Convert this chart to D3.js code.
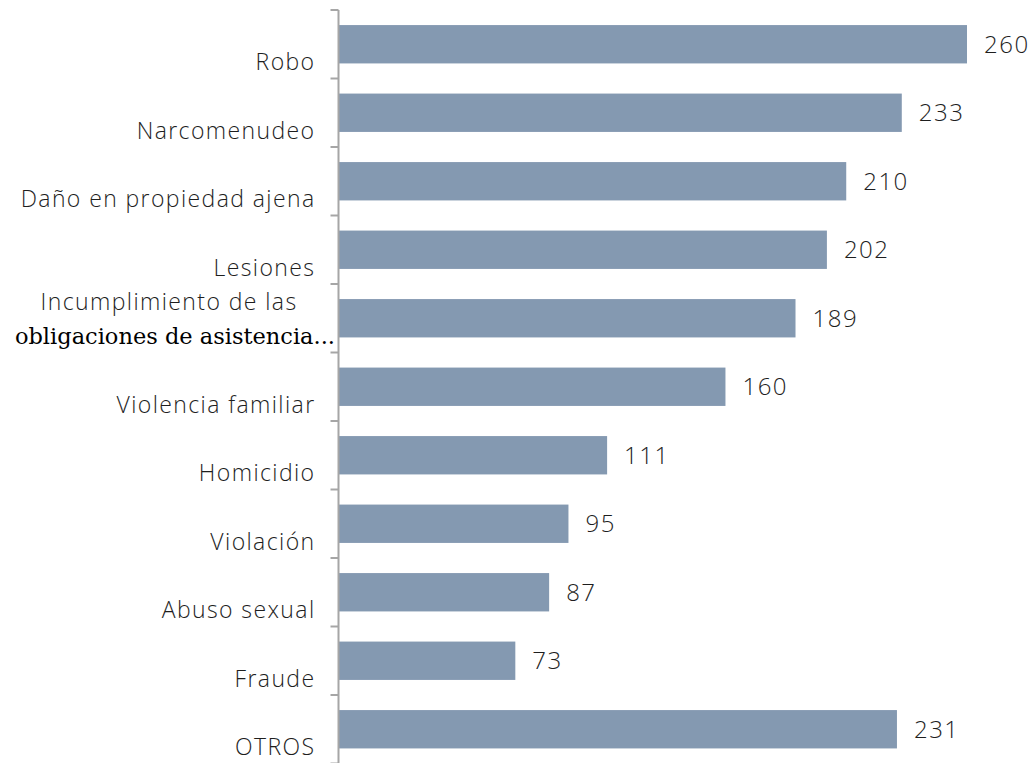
<!DOCTYPE html>
<html>
<head>
<meta charset="utf-8">
<script src="https://cdn.jsdelivr.net/npm/d3@7"></script>
<style>
  body { margin: 0; background: #fff; }
  .cat { font-family: "Open Sans", sans-serif; font-weight: 300; font-size: 23px; letter-spacing: 1.4px; fill: #1e1e1e; }
  .val { font-family: "Open Sans", sans-serif; font-weight: 300; font-size: 24px; letter-spacing: 1.5px; fill: #1e1e1e; }
</style>
</head>
<body>
<div id="chart"></div>
<script>
// data
var categories = ["Robo", "Narcomenudeo", "Daño en propiedad ajena", "Lesiones",
    "Incumplimiento de las obligaciones de asistencia...", "Violencia familiar",
    "Homicidio", "Violación", "Abuso sexual", "Fraude", "OTROS"];
var values = [260, 233, 210, 202, 189, 160, 111, 95, 87, 73, 231];

var width = 1036, height = 763;
var axisX = 338.5;

var svg = d3.select("#chart").append("svg")
    .attr("width", width)
    .attr("height", height);

// scales
var y = d3.scaleBand()
    .domain(categories)
    .range([10, 763.5])
    .paddingInner(0.44)
    .paddingOuter(0.22);

var x = d3.scaleLinear()
    .domain([0, 260])
    .range([axisX + 0.5, 967]);

// bars
svg.selectAll("rect.bar")
    .data(values)
    .enter().append("rect")
    .attr("class", "bar")
    .attr("x", x(0))
    .attr("y", function(d, i) { return y(categories[i]); })
    .attr("width", function(d) { return x(d) - x(0); })
    .attr("height", y.bandwidth())
    .attr("fill", "#8499b1");

// value labels
svg.selectAll("text.val")
    .data(values)
    .enter().append("text")
    .attr("class", "val")
    .attr("x", function(d) { return x(d) + 17; })
    .attr("y", function(d, i) { return y(categories[i]) + y.bandwidth() / 2; })
    .attr("dy", "0.35em")
    .text(function(d) { return d; });

// axis line and ticks at band boundaries
var step = y.step();
svg.append("line")
    .attr("x1", axisX).attr("x2", axisX)
    .attr("y1", 10).attr("y2", height)
    .attr("stroke", "#a6a6a6")
    .attr("stroke-width", 2);

var bounds = d3.range(categories.length + 1).map(function(i) { return 10 + i * step; });
svg.selectAll("line.tick")
    .data(bounds)
    .enter().append("line")
    .attr("class", "tick")
    .attr("x1", axisX - 8).attr("x2", axisX)
    .attr("y1", function(d) { return d; })
    .attr("y2", function(d) { return d; })
    .attr("stroke", "#a6a6a6")
    .attr("stroke-width", 2);

// category labels (sit a bit below the band centre)
categories.forEach(function(c, i) {
    var cy = y(c) + y.bandwidth() / 2 + 18;
    if (c.indexOf("Incumplimiento") === 0) {
        svg.append("text")
            .attr("class", "cat")
            .attr("x", 297.5).attr("y", cy - 34)
            .attr("text-anchor", "end")
            .attr("dy", "0.35em")
            .text("Incumplimiento de las");
        svg.append("text")
            .attr("x", 335).attr("y", cy)
            .attr("text-anchor", "end")
            .attr("dy", "0.35em")
            .style("font-family", "'DejaVu Serif', serif")
            .style("font-size", "22.5px")
            .style("fill", "#000")
            .text("obligaciones de asistencia...");
    } else {
        svg.append("text")
            .attr("class", "cat")
            .attr("x", 315.5).attr("y", cy)
            .attr("text-anchor", "end")
            .attr("dy", "0.35em")
            .text(c);
    }
});
</script>
</body>
</html>
